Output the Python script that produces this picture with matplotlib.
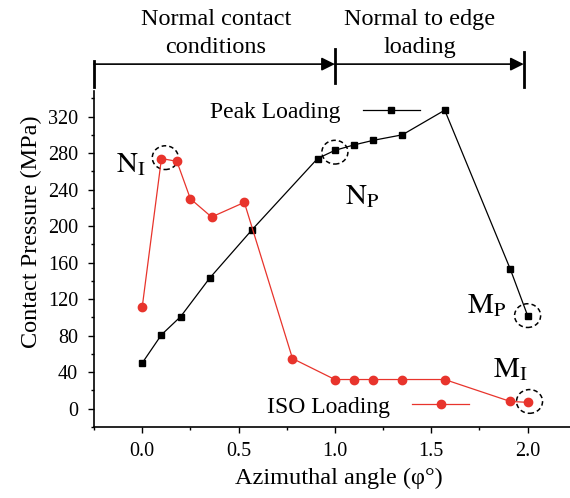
import matplotlib
matplotlib.use('Agg')
import matplotlib.pyplot as plt
from matplotlib.patches import Ellipse
from matplotlib.ticker import MultipleLocator

plt.rcParams['font.family'] = ['Liberation Serif', 'DejaVu Serif']
plt.rcParams['mathtext.fontset'] = 'stix'

# region [Data]
peak_x = [0.0, 0.1, 0.2, 0.35, 0.57, 0.91, 1.0, 1.1, 1.2, 1.35, 1.57, 1.91, 2.0]
peak_y = [50, 81, 101, 143, 196, 274, 283, 289, 294, 300, 327, 153, 102]

iso_x = [0.0, 0.1, 0.18, 0.25, 0.36, 0.53, 0.78, 1.0, 1.1, 1.2, 1.35, 1.57, 1.91, 2.0]
iso_y = [111, 274, 271, 230, 210, 226, 55, 32, 32, 32, 32, 32, 8, 7]

# (label, circle centre x, circle centre y, text x, text y)
callouts = [
  (r'$\mathrm{N_I}$', 0.12, 275, -0.135, 259),
  (r'$\mathrm{N_P}$', 1.0, 281, 1.05, 224),
  (r'$\mathrm{M_P}$', 2.0, 102, 1.684, 105),
  (r'$\mathrm{M_I}$', 2.01, 8, 1.82, 35),
]
# endregion

fig = plt.figure(figsize=(5.7, 4.98), dpi=100)
ax = fig.add_axes([94 / 570, 71 / 498, 476 / 570, 336 / 498])

red = '#e8342c'
peak, = ax.plot(peak_x, peak_y, color='black', lw=0.9, marker='s', ms=4.5, label='Peak Loading')
iso, = ax.plot(iso_x, iso_y, color=red, lw=0.9, marker='o', ms=6, label='ISO Loading')

for label, cx, cy, tx, ty in callouts:
  ax.add_patch(Ellipse((cx, cy), 0.135, 26, fill=False, ls=(0, (3, 2)), lw=1.1, color='black'))
  ax.text(tx, ty, label, fontsize=21, ha='left', va='baseline')

legend_kw = dict(loc='center left', frameon=False, markerfirst=False, fontsize=17,
                 handlelength=2.4, handletextpad=0.95, borderpad=0, borderaxespad=0)
leg1 = ax.legend(handles=[peak], bbox_to_anchor=(0.244, 0.9375), **legend_kw)
ax.add_artist(leg1)
ax.legend(handles=[iso], bbox_to_anchor=(0.363, 0.06), **legend_kw)

ax.set_xlim(-0.25, 2.22)
ax.set_ylim(-20, 348)
ax.xaxis.set_major_locator(MultipleLocator(0.5))
ax.xaxis.set_minor_locator(MultipleLocator(0.25))
ax.yaxis.set_major_locator(MultipleLocator(40))
ax.yaxis.set_minor_locator(MultipleLocator(20))
ax.xaxis.set_major_formatter(lambda v, p: f'{v:.1f}')
ax.tick_params(which='major', direction='out', length=4.5, width=1, labelsize=14.5)
ax.tick_params(which='minor', direction='out', length=2.5, width=1)
ax.tick_params(axis='x', pad=6)
ax.tick_params(axis='y', pad=7)
for s in ('top', 'right'):
  ax.spines[s].set_visible(False)
for s in ('left', 'bottom'):
  ax.spines[s].set_linewidth(1.2)

ax.set_xlabel('Azimuthal angle (φ°)', fontsize=17.5)
ax.set_ylabel('Contact Pressure (MPa)', fontsize=17.5)
ax.xaxis.set_label_coords(0.515, -0.122)
ax.yaxis.set_label_coords(-0.109, 0.58)

# region [Top annotation]
trans = ax.get_xaxis_transform()
for bx, y0, y1 in [(-0.25, 1.012, 1.089), (1.0, 1.024, 1.125), (1.98, 1.012, 1.116)]:
  ax.plot([bx, bx], [y0, y1], color='black', lw=2, transform=trans, clip_on=False)
for x0, x1 in [(-0.25, 1.0), (1.0, 1.98)]:
  ax.annotate('', xy=(x1, 1.08), xytext=(x0, 1.08), xycoords=trans, textcoords=trans,
              arrowprops=dict(arrowstyle='-|>', color='black', lw=1.2, mutation_scale=20,
                              shrinkA=0, shrinkB=0))
for cx, lines in [(0.383, ['Normal contact', 'conditions']), (1.44, ['Normal to edge', 'loading'])]:
  for ty, line in zip([1.196, 1.113], lines):
    ax.text(cx, ty, line, transform=trans, ha='center', va='baseline', fontsize=17.5)
# endregion

fig.savefig('out.png', dpi=100)
